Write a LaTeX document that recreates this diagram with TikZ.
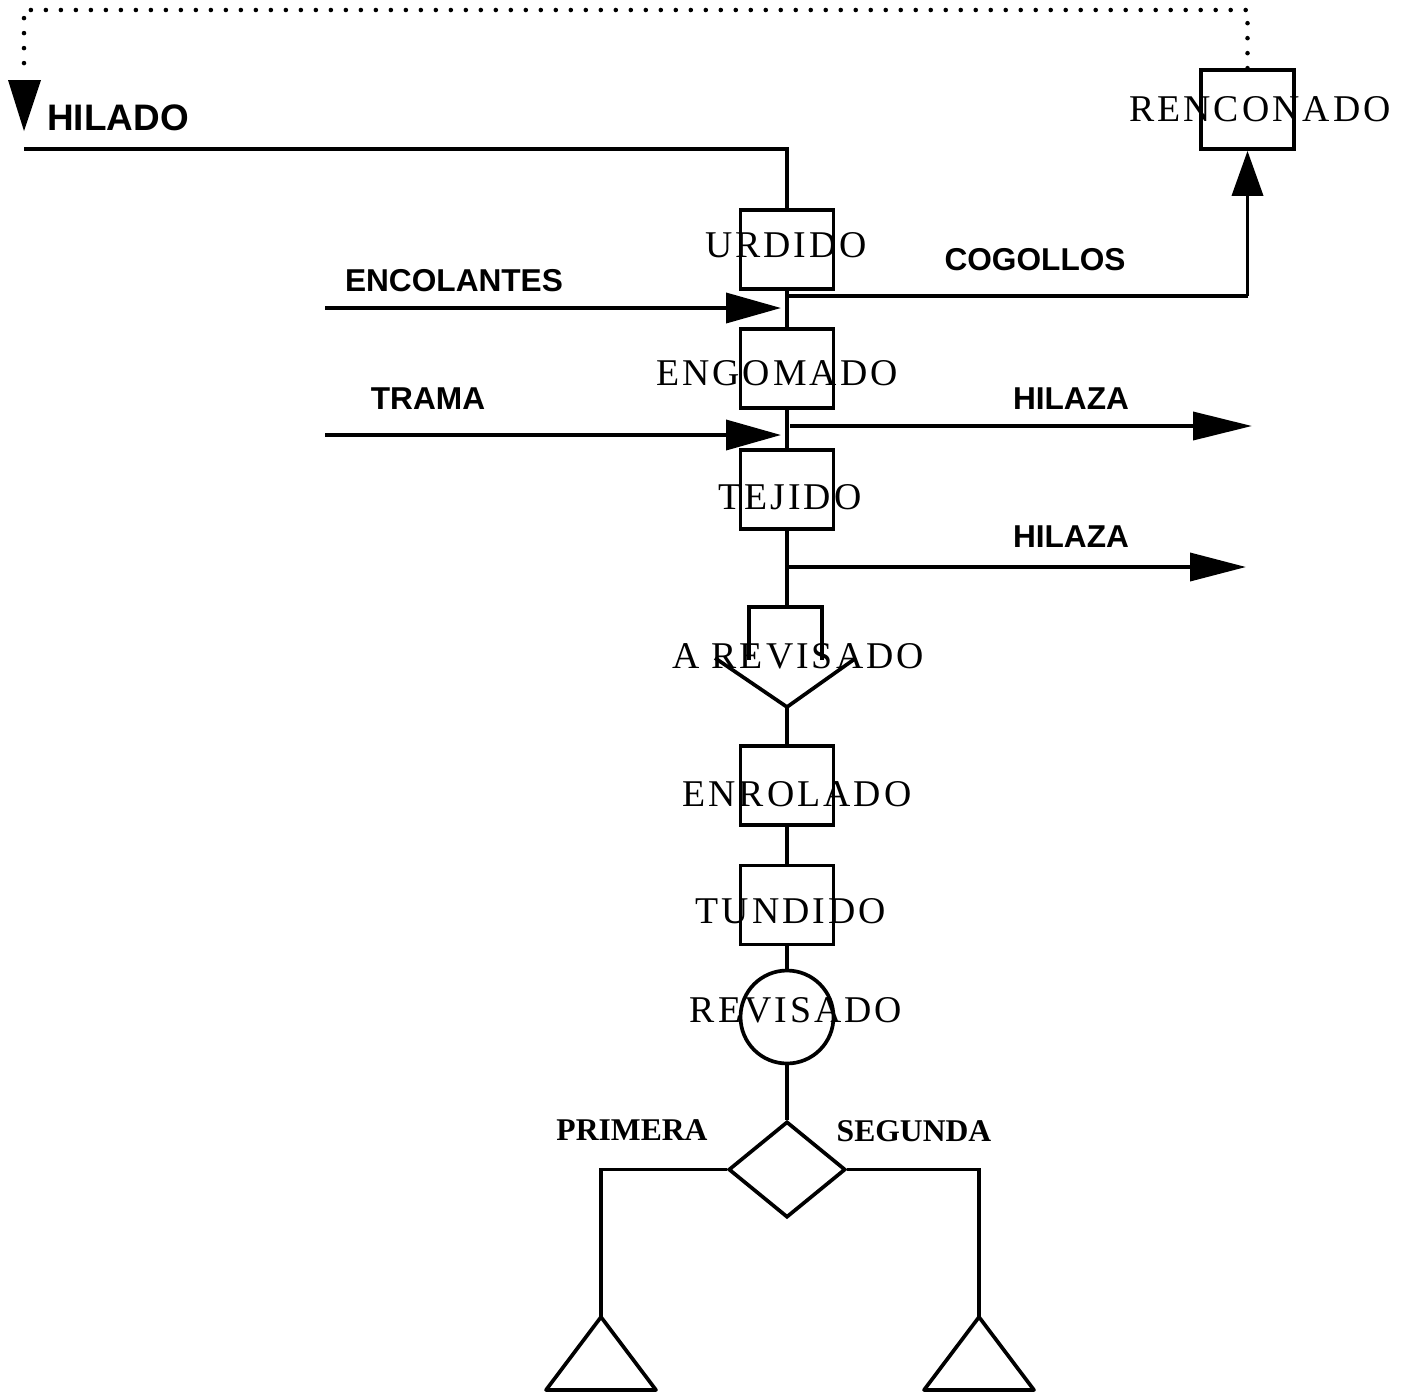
\documentclass[tikz,border=0pt]{standalone}
\usepackage{fontspec}
\setmainfont{Liberation Serif}
\newfontfamily\boxfont[LetterSpace=8]{Liberation Serif}
\newfontfamily\lblfont{Liberation Sans}
\usetikzlibrary{arrows.meta,shapes.geometric}
\begin{document}
\begin{tikzpicture}[x=0.02cm,y=-0.02cm,
  ln/.style={line width=2.1pt},
  proc/.style={draw,line width=2.1pt,minimum width=1.86cm,minimum height=1.58cm,inner sep=0pt},
  boxtxt/.style={font=\boxfont\fontsize{21.5}{21.5}\selectfont,anchor=base,inner sep=0pt},
  flowtxt/.style={font=\lblfont\bfseries\fontsize{18}{18}\selectfont,anchor=base,inner sep=0pt},
  qualtxt/.style={font=\bfseries\fontsize{18}{18}\selectfont,anchor=base,inner sep=0pt},
  bigtip/.style={-{Triangle[length=1.1cm,width=0.6cm]}},
  dots/.style={line width=2.6pt,line cap=round,dash pattern=on 0pt off 0.3cm}]
\useasboundingbox (0,0) rectangle (1406,1393);
% boxes
\node[proc] (urd) at (787,249.5) {};
\node[proc] (eng) at (787,368.5) {};
\node[proc] (tej) at (787,489.5) {};
\node[proc] (enr) at (787,785.5) {};
\node[proc] (tun) at (787,905) {};
\node[proc] (ren) at (1247.5,109.5) {};
\node[draw,circle,line width=2.1pt,minimum size=1.86cm,inner sep=0pt] (rev) at (787,1017) {};
\node[draw,diamond,line width=2.1pt,minimum width=2.34cm,minimum height=1.92cm,inner sep=0pt] (dia) at (787,1169.5) {};
% box texts
\node[boxtxt] (turd) at (786,257) {URDIDO};
\node[boxtxt] (teng) at (777,385) {ENGOMADO};
\node[boxtxt] (ttej) at (790,509) {TEJIDO};
\node[boxtxt] (tarev) at (798,668) {A REVISADO};
\node[boxtxt] (tenr) at (797,806) {ENROLADO};
\node[boxtxt] (ttun) at (791,923) {TUNDIDO};
\node[boxtxt] (trev) at (796,1022) {REVISADO};
\node[boxtxt] (tren) at (1260,121) {RENCONADO};
% flow labels
\node[flowtxt,font=\lblfont\bfseries\fontsize{21}{21}\selectfont] (thil) at (118,130) {HILADO};
\node[flowtxt] (tenc) at (454,291) {ENCOLANTES};
\node[flowtxt] (tcog) at (1035,270) {COGOLLOS};
\node[flowtxt] (ttra) at (428,409) {TRAMA};
\node[flowtxt] (thz1) at (1071,409) {HILAZA};
\node[flowtxt] (thz2) at (1071,547) {HILAZA};
\node[qualtxt] (tpri) at (632,1140) {PRIMERA};
\node[qualtxt] (tseg) at (914,1141) {SEGUNDA};
% coordinates
\coordinate (hilstart) at (24,149);
\coordinate (hilarr) at (24,131);
\coordinate (dotL) at (24,10);
\coordinate (dotR) at (1247.5,10);
\coordinate (encs) at (325,308);
\coordinate (ence) at (781,308);
\coordinate (tras) at (325,435);
\coordinate (trae) at (781,435);
\coordinate (cogs) at (787,296);
\coordinate (cogc) at (1247.5,296);
\coordinate (hz1s) at (790,426);
\coordinate (hz1e) at (1252,426);
\coordinate (hz2s) at (787,567);
\coordinate (hz2e) at (1246,567);
\coordinate (arevtop) at (787,607);
\coordinate (arevbot) at (787,707);
\coordinate (tri1) at (601,1317);
\coordinate (tri2) at (979,1317);
% dotted return
\draw[dots] (ren.north) -- (dotR) -- (dotL) -- (24,72);
\fill (8,80) -- (41,80) -- (hilarr) -- cycle;
% HILADO line
\draw[ln] (hilstart) -| (urd.north);
% main chain
\draw[ln] (urd.south) -- (eng.north);
\draw[ln] (eng.south) -- (tej.north);
\draw[ln] (tej.south) -- (arevtop);
\draw[ln] (arevbot) -- (enr.north);
\draw[ln] (enr.south) -- (tun.north);
\draw[ln] (tun.south) -- (rev.north);
\draw[ln] (rev.south) -- (dia.north);
% A REVISADO symbol
\draw[ln] (749,660) -- (749,607) -- (822,607) -- (822,660);
\draw[ln] (715,658) -- (arevbot) -- (856,658);
% inputs
\draw[ln,bigtip] (encs) -- (ence);
\draw[ln,bigtip] (tras) -- (trae);
% outputs
\draw[ln] (cogs) -- (cogc);
\draw[ln,-{Triangle[length=0.9cm,width=0.62cm]}] (cogc) -- (ren.south);
\draw[ln,-{Triangle[length=1.18cm,width=0.56cm]}] (hz1s) -- (hz1e);
\draw[ln,-{Triangle[length=1.12cm,width=0.56cm]}] (hz2s) -- (hz2e);
% branches
\draw[ln] (dia.west) -| (tri1);
\draw[ln] (dia.east) -| (tri2);
\draw[ln,line join=round] (tri1) -- (546,1390) -- (656,1390) -- cycle;
\draw[ln,line join=round] (tri2) -- (924,1390) -- (1034,1390) -- cycle;
\end{tikzpicture}
\end{document}
